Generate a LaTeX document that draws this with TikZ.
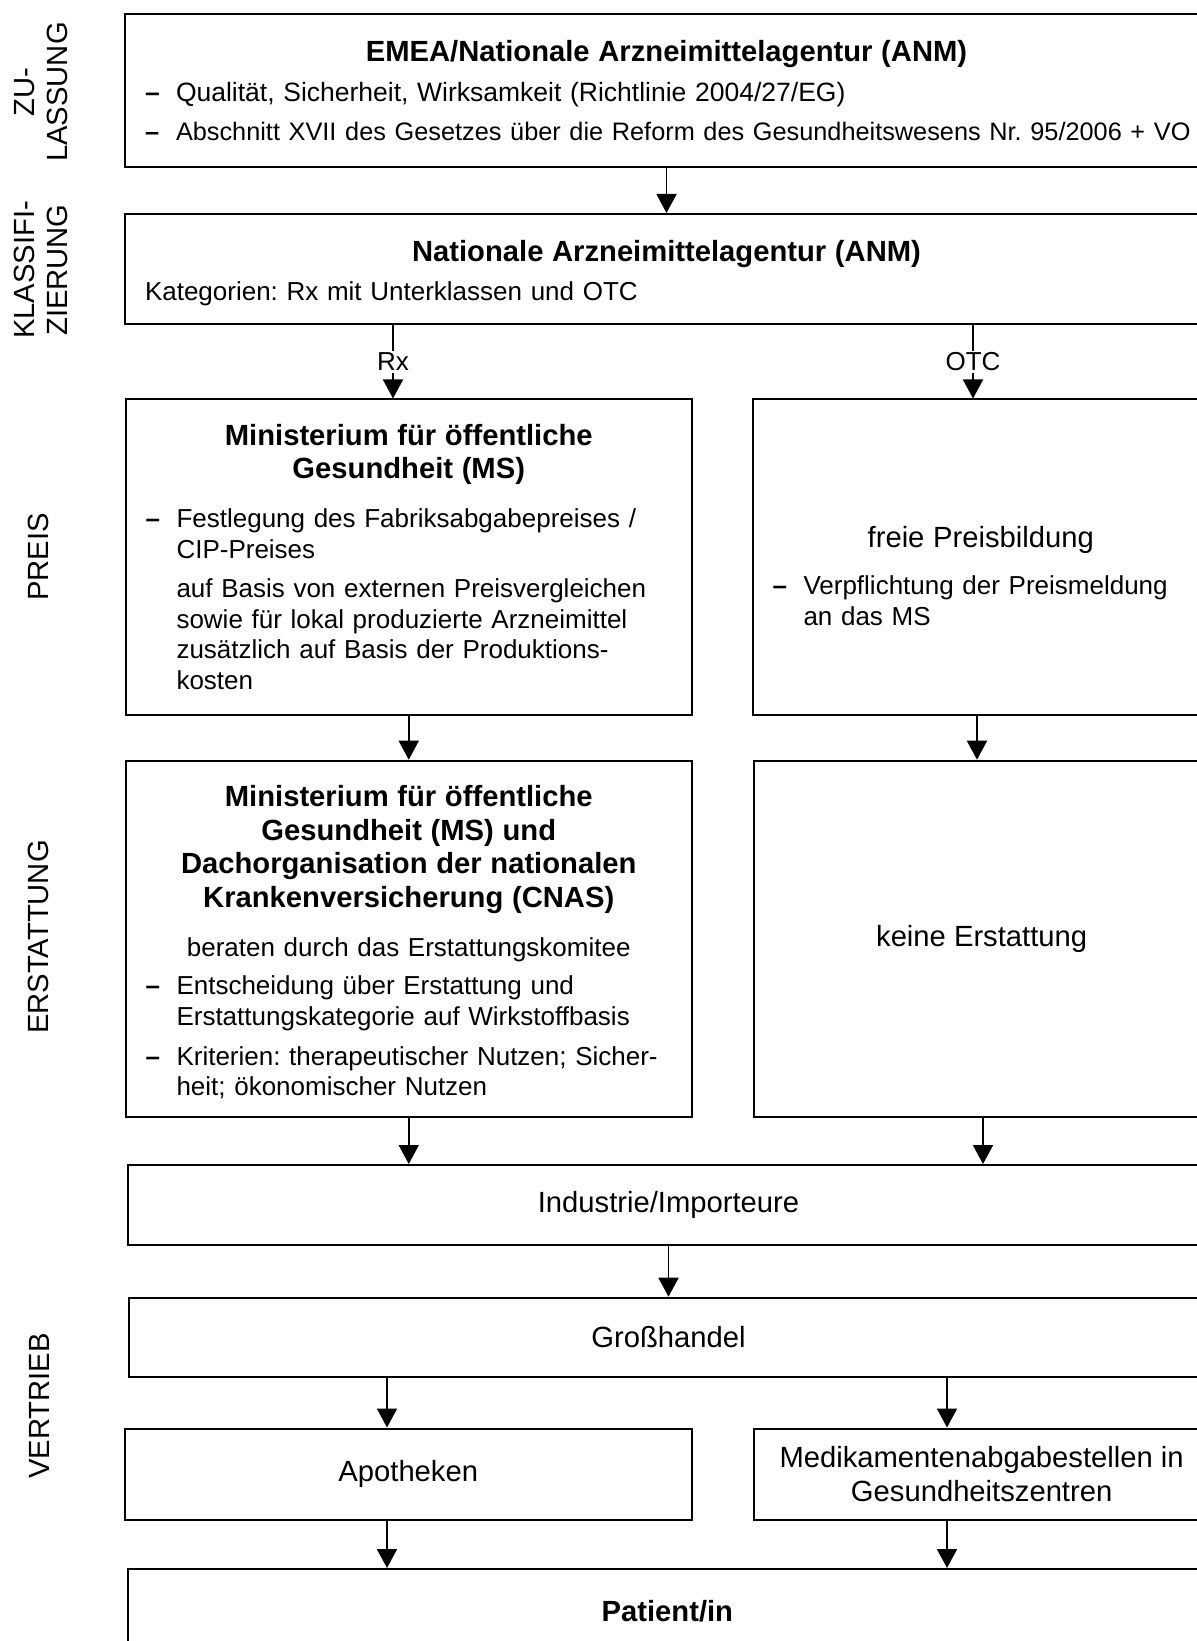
\documentclass[tikz,border=0pt]{standalone}
\usepackage{fontspec}
\setmainfont{Liberation Sans}
\usetikzlibrary{arrows.meta}

\setlength{\parindent}{0pt}
\setlength{\parskip}{0pt}
\frenchspacing

\newcommand{\klein}{\fontsize{13}{15.35}\selectfont}
\newcommand{\titelgr}{\fontsize{14.6}{16.8}\selectfont}
\newlength{\strich}
\setlength{\strich}{15.5pt}
% Spiegelstrich mit haengendem Einzug
\newcommand{\punkt}[1]{\par\hangindent=\strich\hangafter=1\noindent\makebox[\strich][l]{\textbf{–}}#1\par}
\newcommand{\einzug}[1]{\par\hangindent=\strich\hangafter=0\noindent #1\par}

\tikzset{
  kasten/.style={draw, line width=1pt, inner xsep=10pt, inner ysep=0pt, align=center, font=\titelgr},
  textkasten/.style={kasten, align=left, font=\klein},
  pfeil/.style={-{Triangle[width=10pt,length=9.5pt]}, line width=0.9pt},
  phase/.style={rotate=90, align=center, font=\titelgr},
}

\begin{document}
\begin{tikzpicture}[x=0.5pt,y=0.5pt,yscale=-1,xscale=1]

\clip (0,0) rectangle (1197,1641);

% Phasen links
\node[phase] (lzul) at (41,92) {ZU-\\LASSUNG};
\node[phase] (lklass) at (41,270) {KLASSIFI-\\ZIERUNG};
\node[phase] (lpreis) at (38,557) {PREIS};
\node[phase] (lerst) at (38,937) {ERSTATTUNG};
\node[phase] (lvert) at (39,1406) {VERTRIEB};

% Zulassung
\node[textkasten, text width=521.5pt, minimum height=76.5pt] (zul) at (666.5,90.5) {%
{\centering\titelgr\bfseries EMEA/Nationale Arzneimittelagentur (ANM)\par}\vspace{4.5pt}
{\fontsize{13.25}{15.35}\selectfont
\punkt{Qualität, Sicherheit, Wirksamkeit (Richtlinie 2004/27/EG)}}\vspace{4pt}
{\fontsize{12.65}{15.35}\selectfont
\punkt{\mbox{Abschnitt XVII des Gesetzes über die Reform des Gesundheitswesens Nr. 95/2006 + VO}}}};

% Klassifizierung
\node[textkasten, text width=521.5pt, minimum height=55pt] (klass) at (666.5,269) {%
{\centering\titelgr\bfseries\rule{0pt}{14.3pt}Nationale Arzneimittelagentur (ANM)\par}\vspace{4.2pt}
Kategorien: Rx mit Unterklassen und OTC};

% Preis
\node[textkasten, text width=263.25pt, minimum height=157.5pt] (preisrx) at (408.75,557) {%
{\centering\titelgr\bfseries Ministerium für öffentliche\\Gesundheit (MS)\par}\vspace{9pt}
\punkt{Festlegung des Fabriksabgabepreises /\newline CIP-Preises}\vspace{4.2pt}
\einzug{auf Basis von externen Preisvergleichen\newline sowie für lokal produzierte Arzneimittel\newline zusätzlich auf Basis der Produktions-\newline kosten}};

\node[textkasten, text width=208.25pt, minimum height=157.5pt] (preisotc) at (980.75,557) {%
{\centering\titelgr\rule{0pt}{29.5pt}freie Preisbildung\par}\vspace{8pt}
\punkt{Verpflichtung der Preismeldung\newline an das MS}};

% Erstattung
\node[textkasten, text width=263.25pt, minimum height=177.9pt] (erstrx) at (408.75,938.6) {%
{\centering\titelgr\bfseries\rule{0pt}{14.3pt}Ministerium für öffentliche\\Gesundheit (MS) und\\Dachorganisation der nationalen\\Krankenversicherung (CNAS)\par}\vspace{9pt}
{\centering beraten durch das Erstattungskomitee\par}\vspace{3.9pt}
\punkt{Entscheidung über Erstattung und\newline Erstattungskategorie auf Wirkstoffbasis}\vspace{4.5pt}
\punkt{Kriterien: therapeutischer Nutzen; Sicher-\newline heit; ökonomischer Nutzen}};

\node[kasten, minimum width=227.35pt, minimum height=177.9pt] (erstotc) at (981.65,938.6) {keine Erstattung};

% Vertrieb
\node[kasten, minimum width=540.5pt, minimum height=40pt] (ind) at (668.5,1205) {Industrie/Importeure};
\node[kasten, minimum width=540pt, minimum height=39.8pt] (gross) at (668.5,1337.5) {Großhandel};
\node[kasten, minimum width=283.75pt, minimum height=45.75pt] (apo) at (408.25,1474.25) {Apotheken};
\node[kasten, minimum width=227.35pt, minimum height=45.75pt] (medik) at (981.65,1474.25) {Medikamentenabgabestellen in\\Gesundheitszentren};
\node[kasten, minimum width=539.65pt, minimum height=42.5pt] (pat) at (667.35,1611.5) {\bfseries Patient/in};

% Spalten fuer die Pfeile
\coordinate (rx) at (393,0);
\coordinate (otc) at (973,0);
\coordinate (otcb) at (977,0);
\coordinate (otcc) at (983,0);
\coordinate (vl) at (387,0);
\coordinate (vr) at (947,0);

\draw[pfeil] (zul) -- (klass);
\draw[pfeil] (klass.south -| rx) -- (preisrx.north -| rx) node[midway, fill=white, inner sep=1pt, font=\klein] {Rx};
\draw[pfeil] (klass.south -| otc) -- (preisotc.north -| otc) node[midway, fill=white, inner sep=1pt, font=\klein] {OTC};
\draw[pfeil] (preisrx) -- (erstrx);
\draw[pfeil] (preisotc.south -| otcb) -- (erstotc.north -| otcb);
\draw[pfeil] (erstrx.south) -- (erstrx.south |- ind.north);
\draw[pfeil] (erstotc.south -| otcc) -- (ind.north -| otcc);
\draw[pfeil] (ind) -- (gross);
\draw[pfeil] (gross.south -| vl) -- (apo.north -| vl);
\draw[pfeil] (gross.south -| vr) -- (medik.north -| vr);
\draw[pfeil] (apo.south -| vl) -- (pat.north -| vl);
\draw[pfeil] (medik.south -| vr) -- (pat.north -| vr);

\end{tikzpicture}
\end{document}
